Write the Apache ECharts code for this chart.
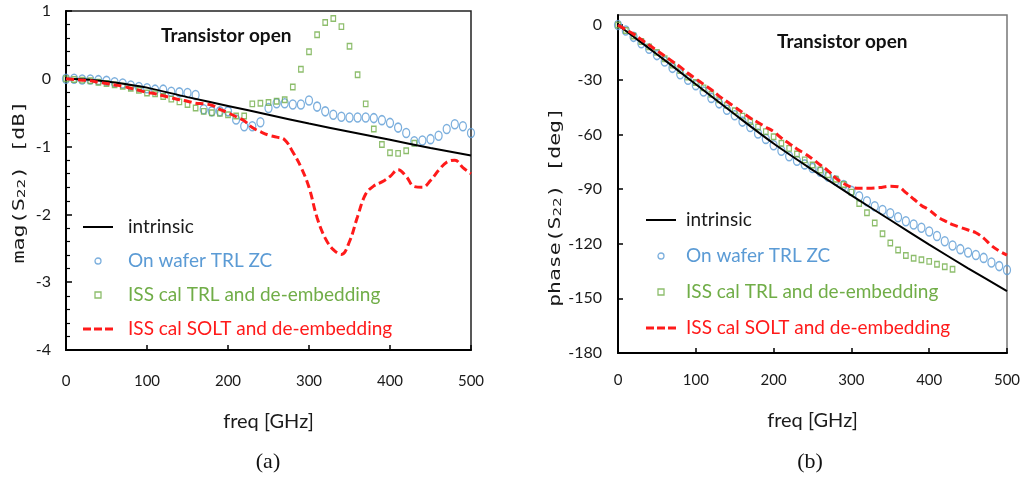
<!DOCTYPE html>
<html><head><meta charset="utf-8">
<script src="https://cdn.jsdelivr.net/npm/echarts@6/dist/echarts.min.js"></script>
<style>html,body{margin:0;padding:0;background:#fff}#c{width:1026px;height:479px}</style>
</head><body><div id="c"></div>
<script>
// ---------- data ----------
const freq = [0,10,20,30,40,50,60,70,80,90,100,110,120,130,140,150,160,170,180,190,200,
  210,220,230,240,250,260,270,280,290,300,310,320,330,340,350,360,370,380,390,400,
  410,420,430,440,450,460,470,480,490,500];
const freqIntrinsic = [0,25,50,75,100,150,200,250,300,350,400,450,500];
const seriesNames = ['intrinsic','On wafer TRL ZC','ISS cal TRL and de-embedding','ISS cal SOLT and de-embedding'];
const xTicks = [0,100,200,300,400,500];

// (a) mag(S22) [dB]
const magIntrinsic = [0,-0.01,-0.04,-0.08,-0.13,-0.27,-0.40,-0.53,-0.66,-0.78,-0.90,-1.02,-1.13];
const magOnWafer = [0,0,-0.01,-0.01,-0.02,-0.03,-0.05,-0.07,-0.10,-0.12,-0.14,-0.16,-0.16,-0.19,-0.20,-0.21,-0.24,
  -0.45,-0.48,-0.48,-0.48,-0.60,-0.70,-0.70,-0.64,-0.43,-0.36,-0.36,-0.38,-0.38,-0.32,-0.41,-0.48,-0.53,-0.56,
  -0.57,-0.57,-0.57,-0.58,-0.61,-0.65,-0.72,-0.80,-0.92,-0.91,-0.89,-0.84,-0.74,-0.67,-0.70,-0.80];
const magTRL = [0,-0.01,-0.02,-0.03,-0.05,-0.07,-0.09,-0.11,-0.14,-0.17,-0.21,-0.22,-0.26,-0.30,-0.34,-0.38,-0.43,
  -0.48,-0.50,-0.51,-0.53,-0.55,-0.55,-0.37,-0.36,-0.35,-0.33,-0.31,-0.12,0.14,0.40,0.65,0.83,0.89,0.77,0.48,0.06,
  -0.37,-0.74,-0.97,-1.09,-1.10,-1.06,-0.95];
const magSOLT = [0,-0.01,-0.02,-0.03,-0.05,-0.07,-0.09,-0.11,-0.14,-0.17,-0.20,-0.22,-0.25,-0.28,-0.31,-0.33,-0.36,
  -0.37,-0.39,-0.45,-0.50,-0.56,-0.62,-0.72,-0.78,-0.83,-0.86,-0.90,-1.08,-1.30,-1.60,-2.05,-2.35,-2.52,-2.59,-2.40,
  -2.03,-1.70,-1.58,-1.52,-1.44,-1.34,-1.44,-1.59,-1.60,-1.50,-1.35,-1.23,-1.20,-1.31,-1.40];

// (b) phase(S22) [deg]
const phIntrinsic = [0,-8,-16,-24.2,-32.5,-49,-65,-79.5,-93.5,-107,-120.5,-133.5,-146];
const phOnWafer = [0,-3,-6.5,-10,-13,-16.5,-20,-23.5,-27,-30,-33,-36.5,-40,-43,-46.5,-49.5,-53,-56,-59.5,-62.5,-66,
  -69,-72,-74.5,-76.5,-78.5,-80.5,-83.2,-85.3,-87.8,-91,-94,-96.7,-99.5,-101.5,-103.3,-105.5,-107.7,-109.5,-111.3,
  -113.3,-115.8,-118.7,-121,-123,-124.8,-126.2,-127.8,-130.3,-132.3,-134.4];
const phTRL = [0,-3,-6,-9,-12,-15,-18.5,-22,-25,-28.5,-31.5,-34.5,-38,-41,-44,-47,-50,-53,-56,-58.5,-61.3,-64.9,
  -67.7,-70.8,-74,-76.8,-79.6,-82.2,-84.6,-87.5,-91.7,-98,-103,-108.7,-114.6,-119.6,-123.5,-126.5,-128,-128.8,
  -129.7,-131.3,-132.7,-134];
const phSOLT = [0,-2.5,-5,-8,-11,-14,-17,-20,-23,-26.5,-29.5,-32.5,-35.5,-39,-42,-45,-48,-51,-53.5,-56,-58.5,-62,
  -65,-68,-70.5,-73.5,-76.8,-80,-84,-87,-89,-89.6,-89.6,-89.5,-89,-88.5,-88.8,-92,-95.5,-99,-101.5,-105,-107.5,
  -109.5,-111,-112.5,-114,-117,-121,-124,-126.3];

// ---------- styles ----------
const C_BLUE = '#5B9BD5', C_GREEN = '#70AD47', C_RED = '#FF1A1A', C_TXT = '#1a1a1a';
const FONT = 'Lato';
const zip = (xs, ys) => ys.map((v, i) => [xs[i], v]);
const ELLIPSE = 'path://M0,5a5,5 0 1,0 10,0a5,5 0 1,0 -10,0z';

function makeSeries(gi, intr, onw, trl, solt) {
  return [
    {name: seriesNames[0], type: 'line', xAxisIndex: gi, yAxisIndex: gi, data: zip(freqIntrinsic, intr),
     symbol: 'none', smooth: 0.3, lineStyle: {color: '#000', width: 2}, itemStyle: {color: '#000'}, z: 3},
    {name: seriesNames[1], type: 'scatter', xAxisIndex: gi, yAxisIndex: gi, data: zip(freq, onw),
     symbol: ELLIPSE, symbolKeepAspect: false, symbolSize: [7, 9],
     itemStyle: {color: 'rgba(0,0,0,0)', borderColor: C_BLUE, borderWidth: 1.4}, z: 2},
    {name: seriesNames[2], type: 'scatter', xAxisIndex: gi, yAxisIndex: gi, data: zip(freq, trl),
     symbol: 'rect', symbolSize: [4.5, 5.5],
     itemStyle: {color: 'rgba(0,0,0,0)', borderColor: C_GREEN, borderWidth: 1.3}, z: 2},
    {name: seriesNames[3], type: 'line', xAxisIndex: gi, yAxisIndex: gi, data: zip(freq, solt),
     symbol: 'none', smooth: 0.4, lineStyle: {color: C_RED, width: 3, type: [8, 4]}, itemStyle: {color: C_RED}, z: 4}
  ];
}

function makeLegend(left, top, gap, pad) {
  return {
    left: left, top: top, orient: 'vertical', itemWidth: 30, itemHeight: 6, itemGap: gap,
    selectedMode: false, symbolKeepAspect: true,
    textStyle: {fontFamily: FONT, fontSize: 19, lineHeight: 24, padding: [0, 0, 0, pad]},
    data: [
      {name: seriesNames[0], icon: 'path://M0,0h30v2h-30z', itemStyle: {color: '#000', borderWidth: 0}, textStyle: {color: C_TXT}},
      {name: seriesNames[1], icon: 'circle', itemStyle: {color: 'rgba(0,0,0,0)', borderColor: C_BLUE, borderWidth: 1.3}, textStyle: {color: C_BLUE}},
      {name: seriesNames[2], icon: 'path://M0,0h10v10h-10z', itemStyle: {color: 'rgba(0,0,0,0)', borderColor: C_GREEN, borderWidth: 1.3}, textStyle: {color: C_GREEN}},
      {name: seriesNames[3], icon: 'path://M0,0h8v3h-8zM11,0h8v3h-8zM22,0h8v3h-8z', itemStyle: {color: C_RED, borderWidth: 0}, textStyle: {color: C_RED}}
    ]
  };
}

function makeX(gi, margin) {
  return {
    gridIndex: gi, type: 'value', min: xTicks[0], max: xTicks[xTicks.length - 1], interval: xTicks[1] - xTicks[0],
    axisLine: {onZero: false, lineStyle: {color: '#000', width: 2}},
    axisTick: {inside: true, length: 5, lineStyle: {color: '#000', width: 1.5}},
    splitLine: {show: false},
    axisLabel: {fontFamily: FONT, fontSize: 15, color: C_TXT, margin: margin},
    name: 'freq [GHz]', nameLocation: 'middle', nameGap: margin + 38,
    nameTextStyle: {fontFamily: FONT, fontSize: 20, color: C_TXT}
  };
}

const option = {
  animation: false,
  backgroundColor: '#fff',
  grid: [
    {left: 66, top: 11, width: 405, height: 339, show: true, borderColor: '#222', borderWidth: 1.5},
    {left: 618, top: 15, width: 389, height: 338, show: true, borderColor: '#777', borderWidth: 1.5}
  ],
  xAxis: [makeX(0, 24), makeX(1, 20)],
  yAxis: [
    {gridIndex: 0, type: 'value', min: -4, max: 1, interval: 1,
     axisLine: {onZero: false, lineStyle: {color: '#000', width: 2}},
     axisTick: {inside: true, length: 6, lineStyle: {color: '#000', width: 1.5}},
     minorTick: {show: true, splitNumber: 5, length: 4, lineStyle: {color: '#000', width: 1.2}},
     splitLine: {show: false},
     axisLabel: {fontFamily: FONT, fontSize: 16, color: C_TXT, margin: 15}},
    {gridIndex: 1, type: 'value', min: -180, max: 5.5, interval: 30,
     axisLine: {onZero: false, lineStyle: {color: '#000', width: 2}},
     axisTick: {inside: true, length: 5, lineStyle: {color: '#000', width: 1.5}},
     splitLine: {show: false},
     axisLabel: {fontFamily: FONT, fontSize: 16, color: C_TXT, margin: 16, showMaxLabel: false}}
  ],
  legend: [makeLegend(78, 210, 10, 10), makeLegend(641, 203, 12, 5)],
  series: [].concat(
    makeSeries(0, magIntrinsic, magOnWafer, magTRL, magSOLT),
    makeSeries(1, phIntrinsic, phOnWafer, phTRL, phSOLT)
  ),
  graphic: [
    {type: 'text', x: 161, y: 36, style: {text: 'Transistor open', fontFamily: FONT, fontWeight: 'bold', fontSize: 19, fill: '#111', align: 'left', verticalAlign: 'middle'}},
    {type: 'text', x: 777, y: 42, style: {text: 'Transistor open', fontFamily: FONT, fontWeight: 'bold', fontSize: 19, fill: '#111', align: 'left', verticalAlign: 'middle'}},
    {type: 'text', x: 20, y: 182, rotation: Math.PI / 2, scaleX: 1.45,
     style: {text: 'mag(S{s|22}) [dB]', fontFamily: 'DejaVu Sans Mono', fontSize: 15, fill: C_TXT, align: 'center', verticalAlign: 'middle',
             rich: {s: {fontFamily: 'DejaVu Sans Mono', fontSize: 11, fill: C_TXT, padding: [4, 0, 0, 0]}}}},
    {type: 'text', x: 556, y: 207, rotation: Math.PI / 2, scaleX: 1.43,
     style: {text: 'phase(S{s|22}) [deg]', fontFamily: 'DejaVu Sans Mono', fontSize: 15, fill: C_TXT, align: 'center', verticalAlign: 'middle',
             rich: {s: {fontFamily: 'DejaVu Sans Mono', fontSize: 11, fill: C_TXT, padding: [4, 0, 0, 0]}}}},
    {type: 'text', x: 268, y: 462, style: {text: '(a)', fontFamily: 'Liberation Serif', fontSize: 22, fill: '#111', align: 'center', verticalAlign: 'middle'}},
    {type: 'text', x: 810, y: 462, style: {text: '(b)', fontFamily: 'Liberation Serif', fontSize: 22, fill: '#111', align: 'center', verticalAlign: 'middle'}}
  ]
};

const chart = echarts.init(document.getElementById('c'), null, {renderer: 'canvas', devicePixelRatio: 1});
chart.setOption(option);
</script>
</body></html>
